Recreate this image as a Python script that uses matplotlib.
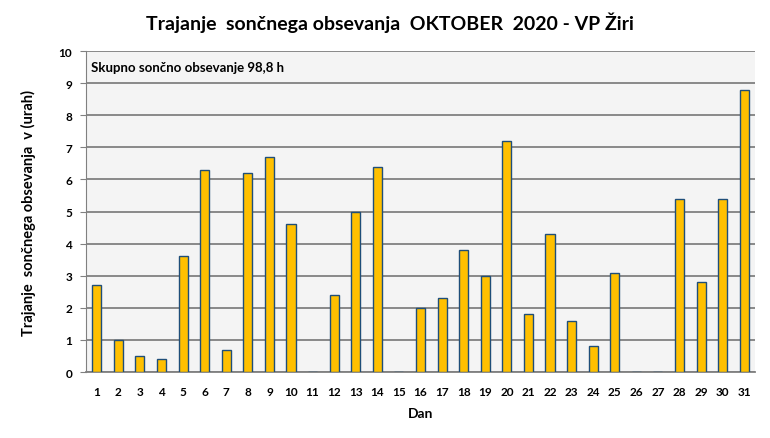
import matplotlib.pyplot as plt
import matplotlib

matplotlib.rcParams['font.family'] = ['Lato', 'DejaVu Sans']
matplotlib.rcParams['font.weight'] = 'bold'

dan = list(range(1, 32))
ure = [2.7, 1.0, 0.5, 0.4, 3.6, 6.3, 0.7, 6.2, 6.7, 4.6, 0.0, 2.4, 5.0, 6.4, 0.0,
       2.0, 2.3, 3.8, 3.0, 7.2, 1.8, 4.3, 1.6, 0.8, 3.1, 0.0, 0.0, 5.4, 2.8, 5.4, 8.8]
skupno = '98,8'

fig = plt.figure(figsize=(7.7, 4.39), dpi=100)
ax = fig.add_axes([0.1117, 0.1503, 0.8688, 0.7312])
ax.set_facecolor('#f4f4f4')

ax.bar(dan, ure, width=0.42, color='#ffc000', edgecolor='#1f4e79', linewidth=1.0, zorder=3)

ax.set_xlim(0.5, 31.5)
ax.set_ylim(0, 10)
ax.set_yticks(range(0, 11))
ax.set_xticks(dan)
ax.yaxis.grid(True, color='#808080', linewidth=1.3, zorder=1)
ax.set_axisbelow(True)

for s in ['top', 'right']:
    ax.spines[s].set_visible(False)
ax.spines['left'].set_color('#808080')
ax.spines['bottom'].set_color('#808080')
ax.spines['bottom'].set_linewidth(1.3)

ax.tick_params(axis='y', length=4, color='#808080', labelsize=8.5, pad=6)
ax.tick_params(axis='x', length=0, labelsize=8.5, pad=10)
for lab in ax.get_xticklabels() + ax.get_yticklabels():
    lab.set_fontweight('bold')

ax.set_xlabel('Dan', fontsize=10, fontweight='bold', labelpad=7)
ax.set_ylabel('Trajanje  sončnega obsevanja  v (urah)', fontsize=10.5, fontweight='bold', labelpad=16)

fig.text(0.507, 0.948, 'Trajanje  sončnega obsevanja  OKTOBER  2020 - VP Žiri',
         ha='center', va='center', fontsize=14, fontweight='bold')

ax.text(0.007, 0.95, f'Skupno sončno obsevanje {skupno} h', transform=ax.transAxes,
        ha='left', va='center', fontsize=9.5, fontweight='bold')

fig.savefig('out.png', dpi=100)
